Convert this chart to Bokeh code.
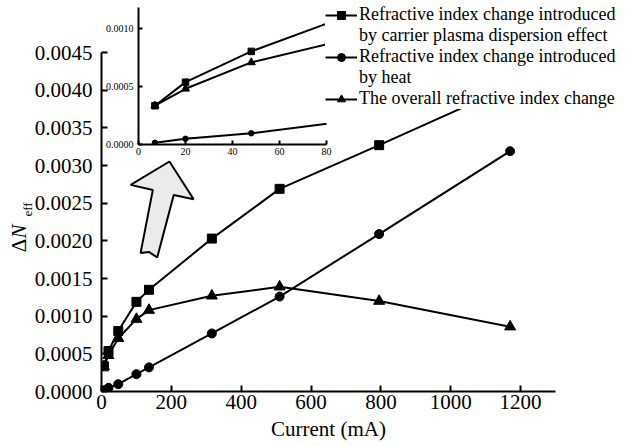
from bokeh.plotting import figure
from bokeh.models import (Range1d, Legend, LegendItem, Label, FixedTicker,
                          PrintfTickFormatter)
from bokeh.embed import file_html
from bokeh.resources import INLINE
import math

# ---------------- data ----------------
current = [7, 20, 48, 100, 136, 316, 510, 795, 1170]
carrier = [0.000334, 0.000537, 0.000802, 0.00119, 0.00135, 0.00203, 0.00269, 0.00327, 0.00405]
heat = [0.000015, 0.000049, 0.000097, 0.00023, 0.00032, 0.00077, 0.00126, 0.00209, 0.00319]
overall = [0.000334, 0.00048, 0.000707, 0.00096, 0.00108, 0.00127, 0.00139, 0.00120, 0.00086]

x_ticks = [0, 200, 400, 600, 800, 1000, 1200]
y_ticks = [0.0, 0.0005, 0.0010, 0.0015, 0.0020, 0.0025, 0.0030, 0.0035, 0.0040, 0.0045]
inset_x_ticks = [0, 20, 40, 60, 80]
inset_y_ticks = [0.0, 0.0005, 0.0010]

legend_labels = ["Refractive index change introduced",
                 "by carrier plasma dispersion effect",
                 "Refractive index change introduced",
                 "by heat",
                 "The overall refractive index change"]

# arrow annotation outline (data units)
arrow_x = [194.6, 263.8, 206.8, 159.5, 135.6, 112.0, 147.0, 83.5]
arrow_y = [0.003053, 0.002552, 0.002609, 0.001779, 0.001853, 0.00184, 0.002676, 0.002743]

FONT = "Liberation Serif"
W, H = 629, 445

# ---------------- main figure ----------------
p = figure(width=W, height=H, output_backend="svg", toolbar_location=None,
           x_range=Range1d(0, 1300), y_range=Range1d(0, 0.0045),
           min_border_left=101, min_border_right=74, min_border_top=52, min_border_bottom=54)
p.outline_line_color = None
p.xgrid.visible = False
p.ygrid.visible = False

for ax in (p.xaxis[0], p.yaxis[0]):
    ax.axis_line_width = 2
    ax.axis_line_color = "black"
    ax.major_tick_line_width = 2
    ax.major_tick_in = 6
    ax.major_tick_out = 0
    ax.minor_tick_line_color = None
    ax.major_label_text_font = FONT
    ax.major_label_text_font_size = "21px"
    ax.major_label_text_color = "black"

p.xaxis[0].ticker = FixedTicker(ticks=x_ticks)
p.xaxis[0].major_label_standoff = 3
p.xaxis[0].axis_label = "Current (mA)"
p.xaxis[0].axis_label_text_font = FONT
p.xaxis[0].axis_label_text_font_size = "21px"
p.xaxis[0].axis_label_text_font_style = "normal"
p.xaxis[0].axis_label_text_color = "black"
p.xaxis[0].axis_label_standoff = 5
p.yaxis[0].ticker = FixedTicker(ticks=y_ticks)
p.yaxis[0].formatter = PrintfTickFormatter(format="%.4f")
p.yaxis[0].major_label_standoff = 9

# arrow
p.patch(arrow_x, arrow_y, fill_color="#ebebeb", line_color="black", line_width=2)

p.line(current, carrier, line_color="black", line_width=2)
p.scatter(current, carrier, marker="square", size=9, color="black")
p.line(current, heat, line_color="black", line_width=2)
p.scatter(current, heat, marker="circle", size=9, color="black")
p.line(current, overall, line_color="black", line_width=2)
p.scatter(current, overall, marker="triangle", size=11, color="black")

# ---------------- inset figure ----------------
ins = figure(width=240, height=165, output_backend="svg", toolbar_location=None,
             x_range=Range1d(0, 80), y_range=Range1d(0, 0.00118),
             min_border_left=42, min_border_right=10, min_border_top=7, min_border_bottom=21)
ins.outline_line_color = None
ins.xgrid.visible = False
ins.ygrid.visible = False
ins.background_fill_color = None
ins.border_fill_color = None
for ax in (ins.xaxis[0], ins.yaxis[0]):
    ax.axis_line_width = 2
    ax.axis_line_color = "black"
    ax.major_tick_line_width = 2
    ax.major_tick_in = 4
    ax.major_tick_out = 0
    ax.minor_tick_line_color = None
    ax.major_label_text_font = FONT
    ax.major_label_text_font_size = "10px"
    ax.major_label_text_color = "black"
ins.xaxis[0].ticker = FixedTicker(ticks=inset_x_ticks)
ins.xaxis[0].major_label_standoff = 3
ins.yaxis[0].ticker = FixedTicker(ticks=inset_y_ticks)
ins.yaxis[0].formatter = PrintfTickFormatter(format="%.4f")
ins.yaxis[0].major_label_standoff = 5

ins.line(current, carrier, line_color="black", line_width=2)
ins.scatter(current, carrier, marker="square", size=6.5, color="black")
ins.line(current, heat, line_color="black", line_width=2)
ins.scatter(current, heat, marker="circle", size=5.5, color="black")
ins.line(current, overall, line_color="black", line_width=2)
ins.scatter(current, overall, marker="triangle", size=8, color="black")

ins.styles = {"position": "absolute", "left": "96px", "top": "0px",
              "width": "240px", "height": "165px"}

# ---------------- overlay (legend + y title, not clipped by main frame) ----------------
ov = figure(width=W, height=H, output_backend="svg", toolbar_location=None,
            x_axis_type=None, y_axis_type=None,
            x_range=Range1d(-3000, -2000), y_range=Range1d(0, 0.0045),
            min_border_left=0, min_border_right=0, min_border_top=0, min_border_bottom=0)
ov.outline_line_color = None
ov.background_fill_color = None
ov.border_fill_color = None
ov.grid.visible = False

# same series in the overlay (outside its visible range) to supply legend glyphs
lc = ov.line(current, carrier, line_color="black", line_width=2)
sc = ov.scatter(current, carrier, marker="square", size=9, color="black")
lh = ov.line(current, heat, line_color="black", line_width=2)
sh = ov.scatter(current, heat, marker="circle", size=9, color="black")
lo = ov.line(current, overall, line_color="black", line_width=2)
so = ov.scatter(current, overall, marker="triangle", size=11, color="black")

items = [
    LegendItem(label=legend_labels[0], renderers=[lc, sc]),
    LegendItem(label=legend_labels[1], renderers=[]),
    LegendItem(label=legend_labels[2], renderers=[lh, sh]),
    LegendItem(label=legend_labels[3], renderers=[]),
    LegendItem(label=legend_labels[4], renderers=[lo, so]),
]
legend = Legend(items=items, location=(325, 336), orientation="vertical",
                label_text_font=FONT, label_text_font_size="18px",
                label_text_color="black", glyph_width=32, glyph_height=20,
                label_height=20, label_standoff=2, spacing=0, padding=1, margin=0,
                border_line_color=None, background_fill_color="white",
                background_fill_alpha=1.0)
ov.add_layout(legend, "center")

# y-axis title: ΔN_eff
ov.add_layout(Label(x=18, y=200, x_units="screen", y_units="screen", text="Δ",
                    angle=math.pi / 2, text_align="center", text_baseline="middle",
                    text_font=FONT, text_font_size="21px", text_color="black"))
ov.add_layout(Label(x=18, y=214, x_units="screen", y_units="screen", text="N",
                    angle=math.pi / 2, text_align="center", text_baseline="middle",
                    text_font=FONT, text_font_size="21px", text_font_style="italic",
                    text_color="black"))
ov.add_layout(Label(x=27, y=236, x_units="screen", y_units="screen", text="eff",
                    angle=math.pi / 2, text_align="center", text_baseline="middle",
                    text_font=FONT, text_font_size="13px", text_color="black"))

ov.styles = {"position": "absolute", "left": "0px", "top": "0px",
             "width": "%dpx" % W, "height": "%dpx" % H}

open("out.html", "w").write(file_html([p, ins, ov], INLINE))
